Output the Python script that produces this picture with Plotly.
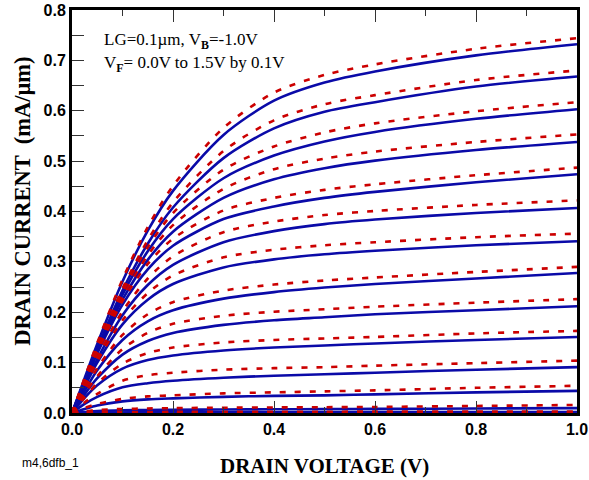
import plotly.graph_objects as go

# Drain voltage sample points (V)
VD = [0, 0.025, 0.05, 0.1, 0.15, 0.2, 0.3, 0.4, 0.5, 0.6, 0.8, 1.0]
VF_LABELS = ["0.0", "0.1", "0.2", "0.3", "0.4", "0.5", "0.6", "0.7",
             "0.8", "0.9", "1.0", "1.1", "1.2", "1.3", "1.4", "1.5"]

# Solid blue curves, drain current (mA/um)
blue_vf00 = [0, 0, 0, 0, 0, 0, 0, 0, 0, 0, 0, 0]
blue_vf01 = [0, 0.0001, 0.0001, 0.0002, 0.0002, 0.0002, 0.0002, 0.0002, 0.0003, 0.0003, 0.0003, 0.0003]
blue_vf02 = [0, 0.0006, 0.0009, 0.0011, 0.0012, 0.0013, 0.0014, 0.0015, 0.0016, 0.0017, 0.0019, 0.002]
blue_vf03 = [0, 0.002, 0.004, 0.0055, 0.006, 0.0064, 0.007, 0.0074, 0.0077, 0.0081, 0.0089, 0.0096]
blue_vf04 = [0, 0.008, 0.015, 0.023, 0.027, 0.029, 0.032, 0.034, 0.035, 0.037, 0.041, 0.044]
blue_vf05 = [0, 0.018, 0.032, 0.051, 0.059, 0.064, 0.070, 0.074, 0.077, 0.080, 0.086, 0.091]
blue_vf06 = [0, 0.030, 0.055, 0.088, 0.105, 0.114, 0.124, 0.130, 0.134, 0.138, 0.145, 0.151]
blue_vf07 = [0, 0.037, 0.069, 0.116, 0.143, 0.159, 0.175, 0.184, 0.190, 0.196, 0.204, 0.212]
blue_vf08 = [0, 0.044, 0.085, 0.145, 0.182, 0.204, 0.227, 0.240, 0.249, 0.256, 0.267, 0.278]
blue_vf09 = [0, 0.052, 0.100, 0.176, 0.225, 0.256, 0.289, 0.305, 0.315, 0.322, 0.333, 0.341]
blue_vf10 = [0, 0.055, 0.107, 0.194, 0.254, 0.294, 0.339, 0.361, 0.375, 0.384, 0.397, 0.407]
blue_vf11 = [0, 0.060, 0.118, 0.215, 0.285, 0.332, 0.385, 0.410, 0.427, 0.439, 0.458, 0.474]
blue_vf12 = [0, 0.062, 0.122, 0.225, 0.304, 0.360, 0.427, 0.464, 0.486, 0.501, 0.522, 0.538]
blue_vf13 = [0, 0.064, 0.125, 0.235, 0.321, 0.385, 0.466, 0.511, 0.539, 0.558, 0.584, 0.603]
blue_vf14 = [0, 0.065, 0.128, 0.243, 0.336, 0.408, 0.506, 0.565, 0.598, 0.617, 0.648, 0.668]
blue_vf15 = [0, 0.069, 0.137, 0.261, 0.362, 0.441, 0.552, 0.620, 0.656, 0.678, 0.710, 0.732]

# Dashed red curves, drain current (mA/um)
red_vf00 = [0, 0, 0, 0, 0, 0, 0, 0, 0, 0, 0, 0]
red_vf01 = [0, 0.0002, 0.0002, 0.0003, 0.0003, 0.0003, 0.0004, 0.0004, 0.0004, 0.0004, 0.0005, 0.0005]
red_vf02 = [0, 0.001, 0.0015, 0.002, 0.002, 0.0022, 0.0024, 0.0025, 0.0026, 0.0027, 0.0029, 0.003]
red_vf03 = [0, 0.003, 0.006, 0.008, 0.009, 0.0096, 0.0105, 0.011, 0.0115, 0.012, 0.014, 0.016]
red_vf04 = [0, 0.010, 0.018, 0.028, 0.033, 0.035, 0.039, 0.041, 0.043, 0.045, 0.050, 0.054]
red_vf05 = [0, 0.021, 0.038, 0.064, 0.075, 0.080, 0.086, 0.089, 0.091, 0.094, 0.099, 0.104]
red_vf06 = [0, 0.031, 0.059, 0.098, 0.119, 0.130, 0.140, 0.145, 0.148, 0.151, 0.158, 0.163]
red_vf07 = [0, 0.039, 0.073, 0.127, 0.159, 0.177, 0.193, 0.201, 0.206, 0.211, 0.219, 0.226]
red_vf08 = [0, 0.045, 0.089, 0.155, 0.196, 0.220, 0.243, 0.255, 0.263, 0.269, 0.280, 0.290]
red_vf09 = [0, 0.053, 0.103, 0.184, 0.238, 0.273, 0.309, 0.324, 0.333, 0.339, 0.349, 0.356]
red_vf10 = [0, 0.056, 0.110, 0.202, 0.267, 0.311, 0.359, 0.380, 0.393, 0.401, 0.413, 0.422]
red_vf11 = [0, 0.061, 0.120, 0.222, 0.296, 0.346, 0.402, 0.427, 0.443, 0.454, 0.472, 0.487]
red_vf12 = [0, 0.063, 0.124, 0.230, 0.313, 0.373, 0.445, 0.484, 0.505, 0.519, 0.538, 0.553]
red_vf13 = [0, 0.065, 0.127, 0.240, 0.329, 0.397, 0.483, 0.529, 0.557, 0.575, 0.599, 0.617]
red_vf14 = [0, 0.066, 0.130, 0.247, 0.343, 0.418, 0.520, 0.581, 0.613, 0.631, 0.661, 0.680]
red_vf15 = [0, 0.070, 0.139, 0.265, 0.369, 0.451, 0.566, 0.636, 0.671, 0.692, 0.723, 0.744]

blue_curves = [blue_vf00, blue_vf01, blue_vf02, blue_vf03, blue_vf04, blue_vf05, blue_vf06, blue_vf07,
               blue_vf08, blue_vf09, blue_vf10, blue_vf11, blue_vf12, blue_vf13, blue_vf14, blue_vf15]
red_curves = [red_vf00, red_vf01, red_vf02, red_vf03, red_vf04, red_vf05, red_vf06, red_vf07,
              red_vf08, red_vf09, red_vf10, red_vf11, red_vf12, red_vf13, red_vf14, red_vf15]

X_TICKS = [0.0, 0.2, 0.4, 0.6, 0.8, 1.0]
Y_TICKS = [0.0, 0.1, 0.2, 0.3, 0.4, 0.5, 0.6, 0.7, 0.8]

BLUE = "#0a0aa8"
RED = "#cc0000"

fig = go.Figure()
for lab, ys in zip(VF_LABELS, blue_curves):
    fig.add_trace(go.Scatter(x=VD, y=ys, mode="lines", name="VF=" + lab,
                             line=dict(color=BLUE, width=2.6, shape="spline", smoothing=0.8),
                             showlegend=False, hoverinfo="skip"))
for lab, ys in zip(VF_LABELS, red_curves):
    fig.add_trace(go.Scatter(x=VD, y=ys, mode="lines", name="VF=" + lab,
                             line=dict(color=RED, width=2.6, dash="6px,9px", shape="spline", smoothing=0.8),
                             showlegend=False, hoverinfo="skip"))

tickfont = dict(family="Liberation Sans, Arial, sans-serif", size=16, color="black")

fig.update_layout(
    width=589, height=480,
    margin=dict(l=72, r=12, t=10, b=67, autoexpand=False),
    paper_bgcolor="white", plot_bgcolor="white",
    showlegend=False,
    font=dict(family="Liberation Sans, Arial, sans-serif", color="black"),
    xaxis=dict(range=[0, 1.0], tickvals=X_TICKS, ticktext=["<b>%.1f</b>" % v for v in X_TICKS],
               tickfont=tickfont, ticks="inside", ticklen=12, tickwidth=1, tickcolor="#333",
               minor=dict(dtick=0.1, ticks="inside", ticklen=6, tickwidth=1, tickcolor="#333"),
               showline=True, linecolor="black", linewidth=3, mirror="ticks",
               showgrid=False, zeroline=False, fixedrange=True, automargin=False),
    yaxis=dict(range=[0, 0.8], tickvals=Y_TICKS, ticktext=["<b>%.1f</b>" % v for v in Y_TICKS],
               tickfont=tickfont, ticks="inside", ticklen=12, tickwidth=1, tickcolor="#333",
               minor=dict(dtick=0.05, ticks="inside", ticklen=12, tickwidth=1, tickcolor="#333"),
               showline=True, linecolor="black", linewidth=3, mirror=True,
               showgrid=False, zeroline=False, fixedrange=True, automargin=False),
)

serif = "Liberation Serif, Times New Roman, serif"
fig.add_annotation(xref="paper", yref="paper", x=0.5, y=0, yshift=-53, yanchor="middle",
                   text="<b>DRAIN VOLTAGE (V)</b>", showarrow=False,
                   font=dict(family=serif, size=21, color="black"))
fig.add_annotation(xref="paper", yref="paper", x=0, xshift=-49, y=0.524, xanchor="center", yanchor="middle",
                   textangle=-90, text="<b>DRAIN CURRENT  (mA/\u00b5m)</b>", showarrow=False,
                   font=dict(family=serif, size=22.5, color="black"))
fig.add_annotation(xref="paper", yref="paper", x=0, xshift=-52, y=0, yshift=-50, xanchor="left",
                   yanchor="middle", text="m4,6dfb_1", showarrow=False,
                   font=dict(family="Liberation Sans, Arial, sans-serif", size=12, color="black"))
fig.add_annotation(xref="paper", yref="paper", x=0, xshift=30, y=1, yshift=-31, xanchor="left",
                   yanchor="middle", text="LG=0.1\u00b5m, V<sub><b>B</b></sub>=-1.0V", showarrow=False,
                   font=dict(family=serif, size=17, color="black"))
fig.add_annotation(xref="paper", yref="paper", x=0, xshift=30, y=1, yshift=-54, xanchor="left",
                   yanchor="middle", text="V<sub><b>F</b></sub>= 0.0V to 1.5V by 0.1V", showarrow=False,
                   font=dict(family=serif, size=17, color="black"))

fig.write_html("out.html")
